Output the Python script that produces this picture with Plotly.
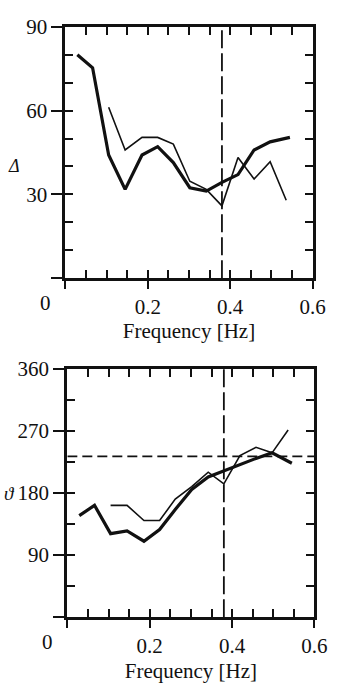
import plotly.graph_objects as go

# ---- data ----
freq_thick = [0.029, 0.066, 0.105, 0.145, 0.186, 0.224, 0.262, 0.302, 0.342, 0.380, 0.419, 0.458, 0.497, 0.545]
freq_thin = [0.105, 0.145, 0.186, 0.224, 0.262, 0.302, 0.342, 0.380, 0.419, 0.458, 0.497, 0.536]

spread_thick = [80.0, 75.3, 44.1, 31.8, 44.1, 47.1, 41.4, 32.4, 31.2, 34.3, 37.1, 45.9, 48.8, 50.4]
spread_thin = [61.2, 45.9, 50.4, 50.4, 48.0, 34.7, 31.8, 25.9, 43.2, 35.5, 41.7, 27.9]

dir_thick = [147, 162, 121, 125, 110, 127, 156, 185, 203, 212, 221, 230, 238, 223]
dir_thin = [162, 162, 140, 140, 171, 189, 210, 193, 234, 246, 238, 271]

peak_freq = 0.38
mean_dir = 233

x_range = [0, 0.6]
y1_range = [0, 90]
y2_range = [0, 360]

x_ticks = [0, 0.2, 0.4, 0.6]
x_ticktext = ["", "0.2", "0.4", "0.6"]
y1_ticks = [0, 30, 60, 90]
y1_ticktext = ["", "30", "60", "90"]
y2_ticks = [0, 90, 180, 270, 360]
y2_ticktext = ["", "90", "180", "270", "360"]

FONT = "Liberation Serif, Times New Roman, DejaVu Serif, serif"
INK = "#111111"
W, H = 340, 683

fig = go.Figure()
# top panel: thick on (x, y), thin on (x3, y), peak line on (x, y3)
fig.add_trace(go.Scatter(x=freq_thick, y=spread_thick, mode="lines",
                         line=dict(color=INK, width=3.2), xaxis="x", yaxis="y"))
fig.add_trace(go.Scatter(x=freq_thin, y=spread_thin, mode="lines",
                         line=dict(color=INK, width=1.6), xaxis="x3", yaxis="y"))
fig.add_trace(go.Scatter(x=[peak_freq, peak_freq], y=y1_range, mode="lines",
                         line=dict(color=INK, width=1.8, dash="18px,5px"), xaxis="x", yaxis="y3"))
# bottom panel
fig.add_trace(go.Scatter(x=freq_thick, y=dir_thick, mode="lines",
                         line=dict(color=INK, width=3.2), xaxis="x2", yaxis="y2"))
fig.add_trace(go.Scatter(x=freq_thin, y=dir_thin, mode="lines",
                         line=dict(color=INK, width=1.6), xaxis="x4", yaxis="y2"))
fig.add_trace(go.Scatter(x=[peak_freq, peak_freq], y=y2_range, mode="lines",
                         line=dict(color=INK, width=1.8, dash="18px,5px"), xaxis="x2", yaxis="y4"))
fig.add_trace(go.Scatter(x=x_range, y=[mean_dir, mean_dir], mode="lines",
                         line=dict(color=INK, width=1.8, dash="10px,5px"), xaxis="x2", yaxis="y2"))

# domains in pixels
top_x = [68 / W, 325 / W]
top_y = [1 - 271 / H, 1 - 15 / H]
bot_x = [70 / W, 327 / W]
bot_y = [1 - 616 / H, 1 - 363 / H]

tickfont = dict(family=FONT, size=21, color=INK)
titlefont = dict(family=FONT, size=21, color=INK)

def inner_axis(domain, rng, dtick, anchor):
    return dict(domain=domain, range=rng, anchor=anchor, showgrid=False, zeroline=False,
                showline=True, linecolor=INK, linewidth=3, mirror="ticks",
                ticks="inside", ticklen=8, tickwidth=2, tickcolor=INK,
                tick0=0, dtick=dtick, showticklabels=False, fixedrange=True)

def outer_axis(over, rng, vals, text, anchor, side, ticklen):
    return dict(overlaying=over, range=rng, anchor=anchor, side=side, showgrid=False,
                zeroline=False, showline=False, ticks="outside", ticklen=ticklen,
                tickwidth=2, tickcolor=INK, tickmode="array", tickvals=vals,
                ticktext=text, tickfont=tickfont, fixedrange=True)

layout = dict(
    width=W, height=H, margin=dict(l=0, r=0, t=0, b=0),
    paper_bgcolor="white", plot_bgcolor="white", showlegend=False,
    xaxis=inner_axis(top_x, x_range, 0.05, "y"),
    yaxis=inner_axis(top_y, y1_range, 10, "x"),
    xaxis2=inner_axis(bot_x, x_range, 0.05, "y2"),
    yaxis2=inner_axis(bot_y, y2_range, 45, "x2"),
    xaxis3=outer_axis("x", x_range, x_ticks, x_ticktext, "y", "bottom", 10),
    yaxis3=outer_axis("y", y1_range, y1_ticks, y1_ticktext, "x", "left", 13),
    xaxis4=outer_axis("x2", x_range, x_ticks, x_ticktext, "y2", "bottom", 10),
    yaxis4=outer_axis("y2", y2_range, y2_ticks, y2_ticktext, "x2", "left", 13),
)
layout["xaxis3"]["title"] = dict(text="Frequency [Hz]", font=titlefont, standoff=4)
layout["xaxis4"]["title"] = dict(text="Frequency [Hz]", font=titlefont, standoff=6)
fig.update_layout(**layout)

# corner "0" labels and axis symbols
for xr, yr in (("x", "y domain"), ("x2", "y2 domain")):
    fig.add_annotation(text="0", xref=xr, yref=yr, x=0, y=0, xanchor="center", yanchor="top",
                       xshift=-20, yshift=-11, showarrow=False, font=tickfont)
fig.add_annotation(text="<i>Δ</i>", xref="paper", yref="y", x=15 / W, y=40, showarrow=False,
                   xanchor="center", yanchor="middle", font=dict(family=FONT, size=18, color=INK))
fig.add_annotation(text="<i>ϑ</i>", xref="paper", yref="y2", x=2 / W, y=179, showarrow=False,
                   xanchor="left", yanchor="middle", font=dict(family=FONT, size=19, color=INK))

fig.write_html("out.html")
